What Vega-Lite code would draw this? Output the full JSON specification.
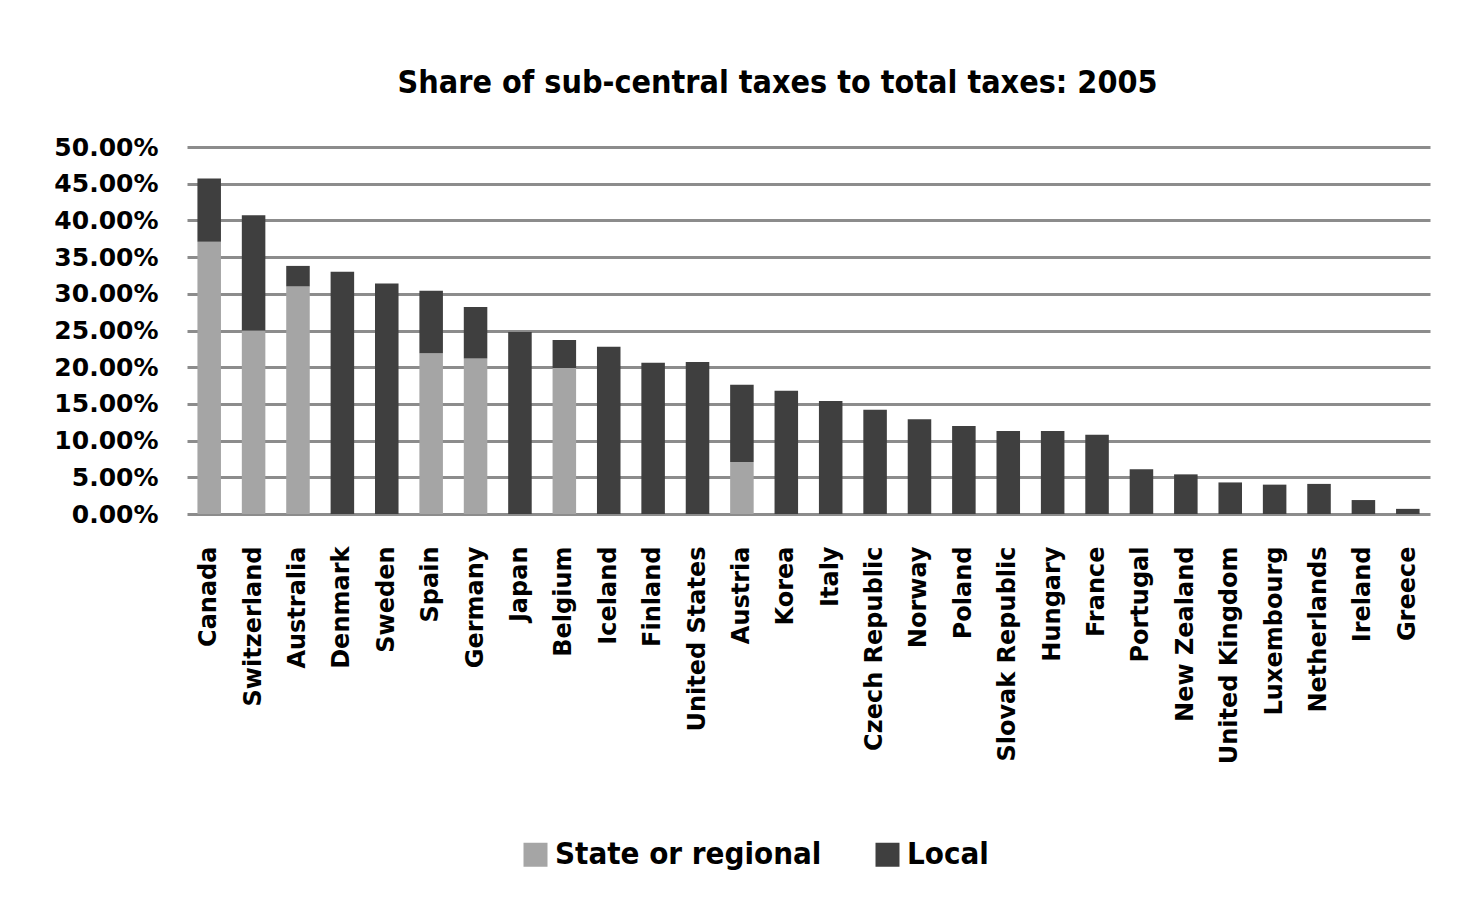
{
  "$schema": "https://vega.github.io/schema/vega-lite/v6.json",
  "autosize": {"type": "none"},
  "width": 1243,
  "height": 367,
  "padding": {"left": 187, "top": 147, "right": 34, "bottom": 405},
  "background": "white",
  "title": {
    "text": "Share of sub-central taxes to total taxes: 2005",
    "font": "DejaVu Sans Condensed",
    "fontWeight": "bold",
    "fontSize": 32,
    "color": "black",
    "anchor": "middle",
    "dx": -31,
    "offset": 35
  },
  "data": {
    "values": [
      {"country": "Canada", "series": "State or regional", "value": 0.371},
      {"country": "Canada", "series": "Local", "value": 0.086},
      {"country": "Switzerland", "series": "State or regional", "value": 0.250},
      {"country": "Switzerland", "series": "Local", "value": 0.157},
      {"country": "Australia", "series": "State or regional", "value": 0.310},
      {"country": "Australia", "series": "Local", "value": 0.028},
      {"country": "Denmark", "series": "Local", "value": 0.330},
      {"country": "Sweden", "series": "Local", "value": 0.314},
      {"country": "Spain", "series": "State or regional", "value": 0.219},
      {"country": "Spain", "series": "Local", "value": 0.085},
      {"country": "Germany", "series": "State or regional", "value": 0.212},
      {"country": "Germany", "series": "Local", "value": 0.070},
      {"country": "Japan", "series": "Local", "value": 0.248},
      {"country": "Belgium", "series": "State or regional", "value": 0.199},
      {"country": "Belgium", "series": "Local", "value": 0.038},
      {"country": "Iceland", "series": "Local", "value": 0.228},
      {"country": "Finland", "series": "Local", "value": 0.206},
      {"country": "United States", "series": "Local", "value": 0.207},
      {"country": "Austria", "series": "State or regional", "value": 0.071},
      {"country": "Austria", "series": "Local", "value": 0.105},
      {"country": "Korea", "series": "Local", "value": 0.168},
      {"country": "Italy", "series": "Local", "value": 0.154},
      {"country": "Czech Republic", "series": "Local", "value": 0.142},
      {"country": "Norway", "series": "Local", "value": 0.129},
      {"country": "Poland", "series": "Local", "value": 0.120},
      {"country": "Slovak Republic", "series": "Local", "value": 0.113},
      {"country": "Hungary", "series": "Local", "value": 0.113},
      {"country": "France", "series": "Local", "value": 0.108},
      {"country": "Portugal", "series": "Local", "value": 0.061},
      {"country": "New Zealand", "series": "Local", "value": 0.054},
      {"country": "United Kingdom", "series": "Local", "value": 0.043},
      {"country": "Luxembourg", "series": "Local", "value": 0.040},
      {"country": "Netherlands", "series": "Local", "value": 0.041},
      {"country": "Ireland", "series": "Local", "value": 0.019},
      {"country": "Greece", "series": "Local", "value": 0.007}
    ]
  },
  "mark": {"type": "bar"},
  "encoding": {
    "x": {
      "field": "country",
      "type": "nominal",
      "sort": null,
      "title": null,
      "scale": {"paddingInner": 0.47, "paddingOuter": 0.235},
      "axis": {
        "labelAngle": -90,
        "labelFont": "DejaVu Sans",
        "labelFontWeight": "bold",
        "labelFontSize": 24,
        "labelColor": "black",
        "labelPadding": 32,
        "labelLimit": 0,
        "ticks": false,
        "domain": false
      }
    },
    "y": {
      "field": "value",
      "type": "quantitative",
      "stack": "zero",
      "title": null,
      "scale": {"domain": [0, 0.5], "nice": false},
      "axis": {
        "values": [0, 0.05, 0.1, 0.15, 0.2, 0.25, 0.3, 0.35, 0.4, 0.45, 0.5],
        "format": ".2%",
        "labelFont": "DejaVu Sans",
        "labelFontWeight": "bold",
        "labelFontSize": 25,
        "labelColor": "black",
        "labelPadding": 29,
        "ticks": false,
        "domain": false,
        "grid": true,
        "gridColor": "#8c8c8c",
        "gridWidth": 3
      }
    },
    "color": {
      "field": "series",
      "type": "nominal",
      "scale": {"domain": ["State or regional", "Local"], "range": ["#a5a5a5", "#3f3f3f"]},
      "legend": {
        "title": null,
        "orient": "none",
        "direction": "horizontal",
        "legendX": 333,
        "legendY": 692,
        "symbolType": "square",
        "symbolSize": 576,
        "symbolStrokeWidth": 0,
        "labelFont": "DejaVu Sans Condensed",
        "labelFontWeight": "bold",
        "labelFontSize": 31,
        "labelColor": "black",
        "labelOffset": 4,
        "labelLimit": 0,
        "columnPadding": 50
      }
    },
    "order": {"field": "series", "sort": "descending"}
  },
  "config": {
    "view": {"stroke": null}
  }
}
